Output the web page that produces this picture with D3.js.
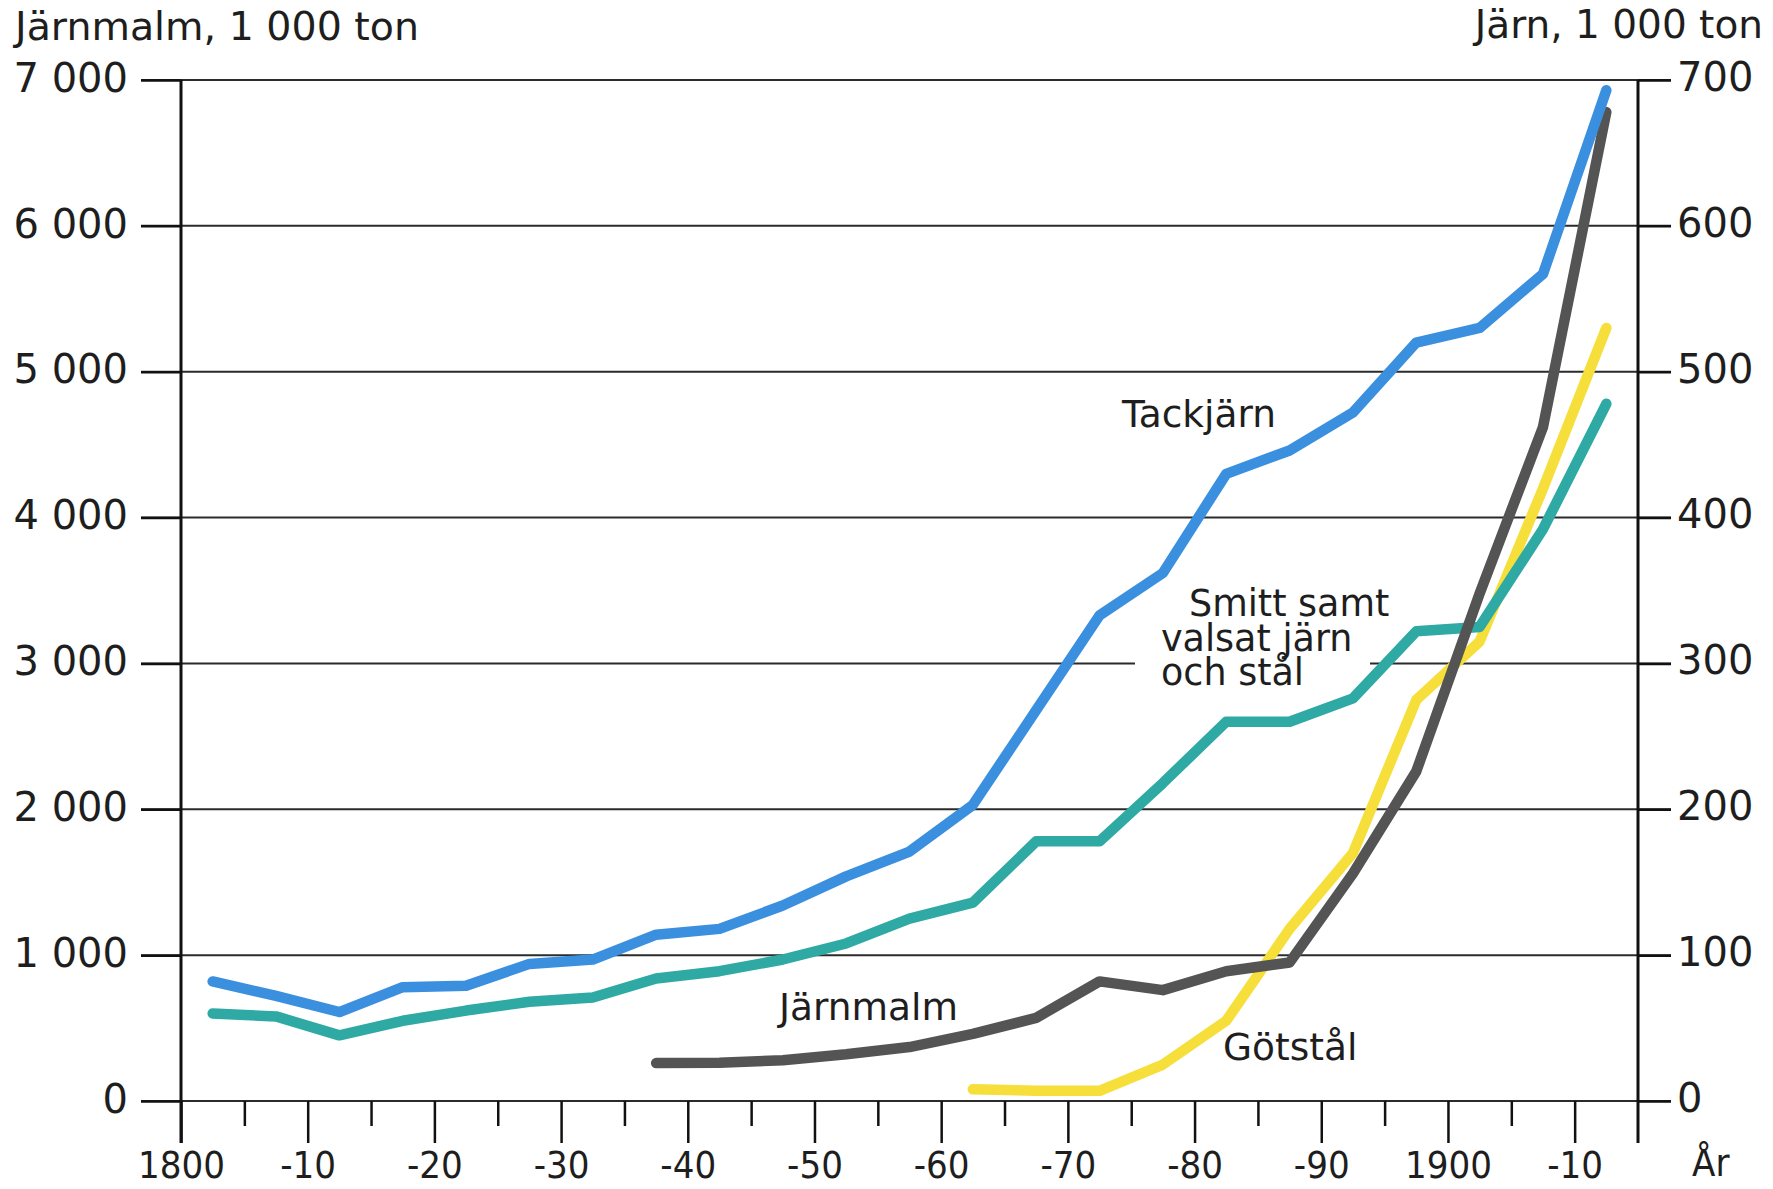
<!DOCTYPE html>
<html>
<head>
<meta charset="utf-8">
<script src="https://cdn.jsdelivr.net/npm/d3@7"></script>
<style>
  html, body { margin: 0; padding: 0; background: #ffffff; }
  svg { display: block; }
  text { font-family: "DejaVu Sans", sans-serif; fill: #1e1e1e; }
  .cond text, text.cond { font-family: "DejaVu Sans Condensed", "DejaVu Sans", sans-serif; font-stretch: condensed; }
</style>
</head>
<body>
<svg id="chart" width="1773" height="1189"></svg>
<script>
// ---------- data ----------
const years = [1802.5, 1807.5, 1812.5, 1817.5, 1822.5, 1827.5, 1832.5, 1837.5, 1842.5, 1847.5,
               1852.5, 1857.5, 1862.5, 1867.5, 1872.5, 1877.5, 1882.5, 1887.5, 1892.5, 1897.5,
               1902.5, 1907.5, 1912.5];
// Tackjärn, 1 000 ton (right axis)
const tackjarn = [82, 72, 61, 78, 79, 94, 97, 114, 118, 134,
                  154, 171, 203, 268, 333, 362, 430, 446, 472, 520,
                  530, 567, 693];
// Smitt samt valsat järn och stål, 1 000 ton (right axis)
const smitt = [60, 58, 45, 55, 62, 68, 71, 84, 89, 97,
               108, 125, 136, 178, 178, 218, 260, 260, 276, 322,
               325, 392, 478];
// Järnmalm, 1 000 ton (left axis)
const malmYears = [1837.5, 1842.5, 1847.5, 1852.5, 1857.5, 1862.5, 1867.5, 1872.5, 1877.5, 1882.5,
                   1887.5, 1892.5, 1897.5, 1902.5, 1907.5, 1912.5];
const jarnmalm = [260, 262, 280, 320, 370, 460, 570, 820, 760, 890,
                  950, 1560, 2260, 3480, 4620, 6780];
// Götstål, 1 000 ton (right axis)
const gotYears = [1862.5, 1867.5, 1872.5, 1877.5, 1882.5, 1887.5, 1892.5, 1897.5, 1902.5, 1907.5, 1912.5];
const gotstal = [8, 7, 7, 25, 55, 118, 170, 275, 315, 420, 530];

// ---------- ticks ----------
const xMajor = [1800, 1810, 1820, 1830, 1840, 1850, 1860, 1870, 1880, 1890, 1900, 1910];
const xMajorLabels = ["1800", "-10", "-20", "-30", "-40", "-50", "-60", "-70", "-80", "-90", "1900", "-10"];
const xMinor = [1805, 1815, 1825, 1835, 1845, 1855, 1865, 1875, 1885, 1895, 1905];
const leftTicks = [0, 1000, 2000, 3000, 4000, 5000, 6000, 7000];
const leftTickLabels = ["0", "1 000", "2 000", "3 000", "4 000", "5 000", "6 000", "7 000"];
const rightTicks = [0, 100, 200, 300, 400, 500, 600, 700];
const rightTickLabels = ["0", "100", "200", "300", "400", "500", "600", "700"];

const leftTitle = "Järnmalm, 1 000 ton";
const rightTitle = "Järn, 1 000 ton";
const xTitle = "År";

// ---------- layout ----------
const X0 = 181, X1 = 1638, Y0 = 1101, Y1 = 80;
const svg = d3.select("#chart");

const x = d3.scaleLinear().domain([1800, 1915]).range([X0, X1]);
const yL = d3.scaleLinear().domain([0, 7000]).range([Y0, Y1]);
const yR = d3.scaleLinear().domain([0, 700]).range([Y0, Y1]);

// gridlines
svg.append("g").selectAll("line").data(rightTicks).join("line")
  .attr("x1", X0 - 40).attr("x2", X1 + 33)
  .attr("y1", d => yR(d)).attr("y2", d => yR(d))
  .attr("stroke", "#2b2b2b").attr("stroke-width", 2);

// white box behind the "Smitt samt..." label (interrupts the gridline)
svg.append("rect")
  .attr("x", 1135).attr("y", yR(300) - 14).attr("width", 235).attr("height", 28)
  .attr("fill", "#ffffff");

// left axis
const axL = svg.append("g").attr("transform", `translate(${X0},0)`)
  .call(d3.axisLeft(yL).tickValues(leftTicks).tickFormat((d, i) => leftTickLabels[i])
        .tickSize(40).tickPadding(13));
axL.select(".domain").remove();
axL.selectAll("line").attr("stroke", "#111").attr("stroke-width", 2.5);
axL.selectAll("text").attr("font-size", 40).attr("dy", "0.28em").style("fill", "#1e1e1e")
  .style("font-family", "'DejaVu Sans', sans-serif");

// right axis
const axR = svg.append("g").attr("transform", `translate(${X1},0)`)
  .call(d3.axisRight(yR).tickValues(rightTicks).tickFormat((d, i) => rightTickLabels[i])
        .tickSize(33).tickPadding(6));
axR.select(".domain").remove();
axR.selectAll("line").attr("stroke", "#111").attr("stroke-width", 2.5);
axR.selectAll("text").attr("font-size", 40).attr("dy", "0.26em").style("fill", "#1e1e1e")
  .style("font-family", "'DejaVu Sans', sans-serif");

// bottom axis: major ticks with labels
const axB = svg.append("g").attr("class", "cond").attr("transform", `translate(0,${Y0})`)
  .call(d3.axisBottom(x).tickValues(xMajor).tickFormat((d, i) => xMajorLabels[i])
        .tickSize(42).tickPadding(8));
axB.select(".domain").remove();
axB.selectAll("line").attr("stroke", "#111").attr("stroke-width", 2.5);
axB.selectAll("text").attr("font-size", 38).style("fill", "#1e1e1e");

// bottom axis: minor ticks
const axBm = svg.append("g").attr("transform", `translate(0,${Y0})`)
  .call(d3.axisBottom(x).tickValues(xMinor).tickFormat("").tickSize(25));
axBm.select(".domain").remove();
axBm.selectAll("line").attr("stroke", "#111").attr("stroke-width", 2.5);

// vertical axis lines
svg.append("line").attr("x1", X0).attr("x2", X0).attr("y1", Y1).attr("y2", Y0 + 42)
  .attr("stroke", "#111").attr("stroke-width", 3);
svg.append("line").attr("x1", X1).attr("x2", X1).attr("y1", Y1).attr("y2", Y0 + 42)
  .attr("stroke", "#111").attr("stroke-width", 3);

// titles
svg.append("text").attr("x", 15).attr("y", 40).attr("font-size", 39.5).text(leftTitle);
svg.append("text").attr("x", 1763).attr("y", 38).attr("font-size", 39)
  .attr("text-anchor", "end").text(rightTitle);
svg.append("text").attr("class", "cond").attr("x", 1692).attr("y", 1176)
  .attr("font-size", 38).text(xTitle);

// ---------- lines ----------
const lineR = d3.line().x(d => x(d[0])).y(d => yR(d[1]));
const lineL = d3.line().x(d => x(d[0])).y(d => yL(d[1]));

const series = [
  { data: d3.zip(gotYears, gotstal), gen: lineR, color: "#f6df3a" },
  { data: d3.zip(years, smitt), gen: lineR, color: "#2ea9a4" },
  { data: d3.zip(malmYears, jarnmalm), gen: lineL, color: "#545454" },
  { data: d3.zip(years, tackjarn), gen: lineR, color: "#3a8fde" }
];

svg.append("g").selectAll("path").data(series).join("path")
  .attr("d", s => s.gen(s.data))
  .attr("fill", "none")
  .attr("stroke", s => s.color)
  .attr("stroke-width", 10.5)
  .attr("stroke-linejoin", "round")
  .attr("stroke-linecap", "round");

// ---------- series labels ----------
const labels = svg.append("g").attr("font-size", 37.5);
labels.append("text").attr("x", 1122).attr("y", 427).text("Tackjärn");
const smittLabel = labels.append("text").attr("font-size", 36.5);
smittLabel.append("tspan").attr("x", 1189).attr("y", 616).text("Smitt samt");
smittLabel.append("tspan").attr("x", 1161).attr("y", 651).text("valsat järn");
smittLabel.append("tspan").attr("x", 1161).attr("y", 685).text("och stål");
labels.append("text").attr("x", 779).attr("y", 1020).text("Järnmalm");
labels.append("text").attr("x", 1223).attr("y", 1060).text("Götstål");
</script>
</body>
</html>
